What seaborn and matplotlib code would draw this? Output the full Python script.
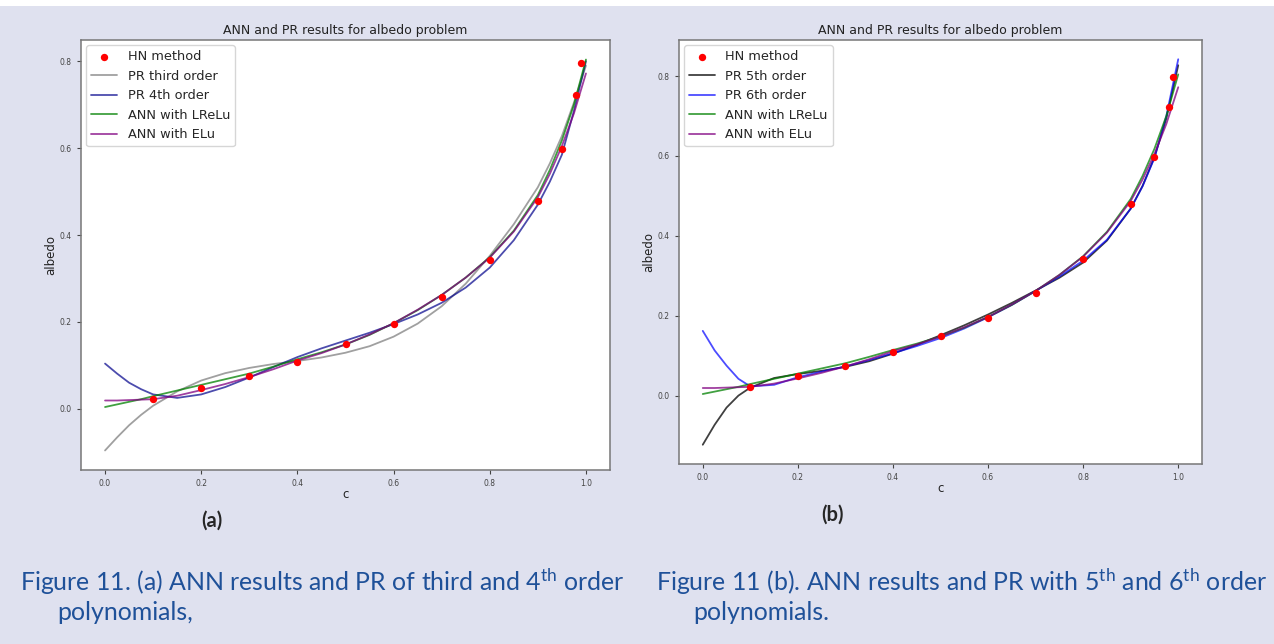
import matplotlib
matplotlib.use("Agg")
import matplotlib.pyplot as plt
import seaborn as sns
import pandas as pd
from matplotlib.patches import Rectangle

# ---------------- data ----------------
hn_c = [0.1, 0.2, 0.3, 0.4, 0.5, 0.6, 0.7, 0.8, 0.9, 0.95, 0.98, 0.99]
hn_albedo = [0.022, 0.048, 0.075, 0.108, 0.148, 0.195, 0.257, 0.343, 0.479, 0.598, 0.722, 0.797]

c_grid = [0.0, 0.025, 0.05, 0.075, 0.1, 0.15, 0.2, 0.25, 0.3, 0.35, 0.4, 0.45, 0.5,
          0.55, 0.6, 0.65, 0.7, 0.75, 0.8, 0.85, 0.9, 0.925, 0.95, 0.975, 1.0]

pr3 = [-0.096, -0.066, -0.038, -0.014, 0.007, 0.040, 0.065, 0.082, 0.094, 0.103, 0.110, 0.118, 0.129,
       0.144, 0.166, 0.196, 0.236, 0.288, 0.352, 0.425, 0.510, 0.565, 0.628, 0.705, 0.790]
pr4 = [0.104, 0.081, 0.060, 0.045, 0.033, 0.025, 0.033, 0.050, 0.072, 0.096, 0.119, 0.139, 0.157,
       0.175, 0.195, 0.217, 0.244, 0.279, 0.325, 0.388, 0.470, 0.523, 0.585, 0.686, 0.800]
pr5 = [-0.123, -0.073, -0.030, 0.000, 0.020, 0.044, 0.054, 0.062, 0.072, 0.086, 0.105, 0.127, 0.151,
       0.176, 0.203, 0.232, 0.263, 0.295, 0.333, 0.388, 0.468, 0.525, 0.597, 0.694, 0.827]
pr6 = [0.162, 0.113, 0.075, 0.042, 0.023, 0.027, 0.046, 0.060, 0.073, 0.089, 0.106, 0.124, 0.144,
       0.168, 0.196, 0.227, 0.262, 0.298, 0.338, 0.390, 0.468, 0.524, 0.595, 0.700, 0.842]
ann_lrelu = [0.004, 0.010, 0.016, 0.022, 0.029, 0.042, 0.055, 0.068, 0.081, 0.097, 0.114, 0.130, 0.148,
             0.170, 0.197, 0.227, 0.262, 0.302, 0.349, 0.410, 0.492, 0.550, 0.618, 0.700, 0.804]
ann_elu = [0.019, 0.019, 0.020, 0.021, 0.022, 0.030, 0.043, 0.057, 0.073, 0.091, 0.111, 0.128, 0.148,
           0.171, 0.197, 0.228, 0.262, 0.302, 0.348, 0.408, 0.487, 0.541, 0.605, 0.680, 0.772]

title = "ANN and PR results for albedo problem"
caption_a = [r"Figure 11. (a) ANN results and PR of third and 4$^{\mathrm{th}}$ order", "polynomials,"]
caption_b = [r"Figure 11 (b). ANN results and PR with 5$^{\mathrm{th}}$ and 6$^{\mathrm{th}}$ order", "polynomials."]

# ---------------- style ----------------
sns.set_style("ticks")
plt.rcParams["font.family"] = ["DejaVu Sans"]
plt.rcParams["mathtext.fontset"] = "custom"
plt.rcParams["mathtext.rm"] = "Lato"
plt.rcParams["mathtext.it"] = "Lato:italic"
plt.rcParams["mathtext.bf"] = "Lato:bold"

BG = "#dfe1ef"
CAP = "#1f5199"

fig = plt.figure(figsize=(12.74, 6.44), dpi=100, facecolor=BG)
fig.patches.append(Rectangle((0, 0.99), 1, 0.01, transform=fig.transFigure,
                             facecolor="white", edgecolor="none", zorder=-1))

ax1 = fig.add_axes([81 / 1274, 1 - 470 / 644, 529 / 1274, 430 / 644])
ax2 = fig.add_axes([679 / 1274, 1 - 464 / 644, 523 / 1274, 424 / 644])

df_hn = pd.DataFrame({"c": hn_c, "albedo": hn_albedo})


def draw(ax, curves):
    sns.scatterplot(data=df_hn, x="c", y="albedo", ax=ax, color="red", s=28,
                    linewidth=0, label="HN method", zorder=5)
    for vals, col, alpha, lab in curves:
        sns.lineplot(x=c_grid, y=vals, ax=ax, color=col, alpha=alpha, lw=1.3,
                     label=lab, sort=False, estimator=None)
    ax.set_facecolor("white")
    ax.set_title(title, fontsize=9.0, color="#222222", pad=4)
    ax.set_xlabel("c", fontsize=8.5, color="#222222", labelpad=0)
    ax.set_ylabel("albedo", fontsize=8.5, color="#222222", labelpad=2)
    ax.set_xticks([0.0, 0.2, 0.4, 0.6, 0.8, 1.0])
    ax.set_yticks([0.0, 0.2, 0.4, 0.6, 0.8])
    ax.tick_params(labelsize=5.5, colors="#444444", length=3, width=0.8)
    for s in ax.spines.values():
        s.set_visible(True)
        s.set_color("#777777")
        s.set_linewidth(1.1)
    leg = ax.legend(loc="upper left", fontsize=9.3, frameon=True, markerscale=1.0,
                    handlelength=2.0, borderaxespad=0.4)
    leg.get_frame().set_edgecolor("#cccccc")
    leg.get_frame().set_facecolor("white")


draw(ax1, [(pr3, "gray", 0.75, "PR third order"),
           (pr4, "darkblue", 0.7, "PR 4th order"),
           (ann_lrelu, "green", 0.75, "ANN with LReLu"),
           (ann_elu, "purple", 0.75, "ANN with ELu")])
draw(ax2, [(pr5, "black", 0.75, "PR 5th order"),
           (pr6, "blue", 0.7, "PR 6th order"),
           (ann_lrelu, "green", 0.75, "ANN with LReLu"),
           (ann_elu, "purple", 0.75, "ANN with ELu")])

# sub-figure labels
fig.text(212 / 1274, 1 - 521 / 644, "(a)", fontsize=14.5, fontweight="bold",
         ha="center", va="center", family="Lato")
fig.text(833 / 1274, 1 - 515 / 644, "(b)", fontsize=14.5, fontweight="bold",
         ha="center", va="center", family="Lato")

# captions
fs = 17.9
fig.text(20 / 1274, 1 - 582 / 644, caption_a[0], fontsize=fs, color=CAP,
         ha="left", va="center", family="Lato")
fig.text(57 / 1274, 1 - 613 / 644, caption_a[1], fontsize=fs, color=CAP,
         ha="left", va="center", family="Lato")
fig.text(656 / 1274, 1 - 582 / 644, caption_b[0], fontsize=fs, color=CAP,
         ha="left", va="center", family="Lato")
fig.text(693 / 1274, 1 - 613 / 644, caption_b[1], fontsize=fs, color=CAP,
         ha="left", va="center", family="Lato")

fig.savefig("out.png", dpi=100, facecolor=BG)
